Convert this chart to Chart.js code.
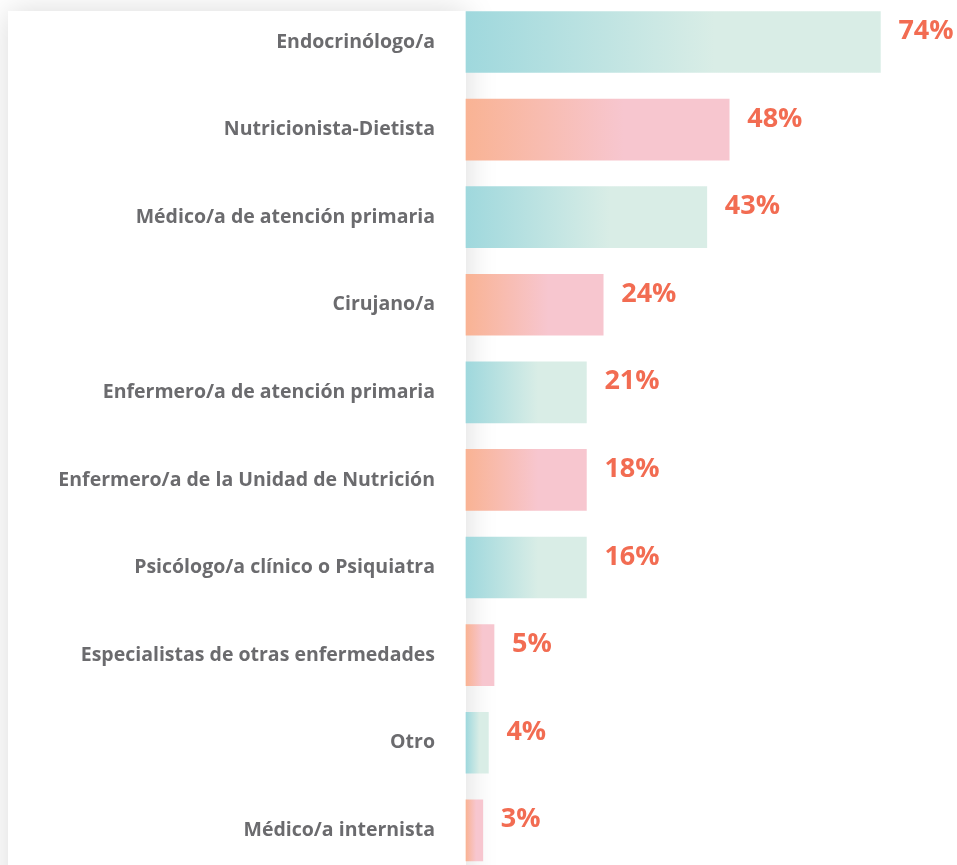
<!DOCTYPE html>
<html>
<head>
<meta charset="utf-8">
<script src="https://cdn.jsdelivr.net/npm/chart.js@4"></script>
<style>
  html, body { margin: 0; padding: 0; background: #fff; overflow: hidden; }
  #wrap { position: relative; width: 957px; height: 865px; }
  /* tarjeta blanca con sombra detrás de las etiquetas */
  #card {
    position: absolute; left: 8px; top: 11px; width: 458px; height: 920px;
    background: #fff; box-shadow: 0 0 30px rgba(0, 0, 0, 0.15);
  }
  #chart { position: absolute; left: 0; top: 0; }
</style>
</head>
<body>
<div id="wrap">
  <div id="card"></div>
  <canvas id="chart" width="957" height="865"></canvas>
</div>
<script>
// Datos
const categories = [
    'Endocrinólogo/a',
    'Nutricionista-Dietista',
    'Médico/a de atención primaria',
    'Cirujano/a',
    'Enfermero/a de atención primaria',
    'Enfermero/a de la Unidad de Nutrición',
    'Psicólogo/a clínico o Psiquiatra',
    'Especialistas de otras enfermedades',
    'Otro',
    'Médico/a internista'
];
// porcentajes impresos junto a cada barra
const shownValues = [74, 48, 43, 24, 21, 18, 16, 5, 4, 3];
// longitud de cada barra tal como está dibujada
const barValues = [74, 47, 43, 24.5, 21.5, 21.5, 21.5, 5, 4, 3];

// Colores del degradado (alternando turquesa / naranja)
const tealStops = ['#9fd8dd', '#d9ede6'];
const orangeStops = ['#f9b394', '#f7c6cf'];

function barGradient(context) {
    const chart = context.chart;
    const area = chart.chartArea;
    if (!area) return tealStops[0];
    const i = context.dataIndex;
    const xs = chart.scales.x;
    const x0 = xs.getPixelForValue(0);
    const x1 = xs.getPixelForValue(barValues[i]);
    const stops = i % 2 === 0 ? tealStops : orangeStops;
    const g = chart.ctx.createLinearGradient(x0, 0, Math.max(x1, x0 + 1), 0);
    g.addColorStop(0, stops[0]);
    g.addColorStop(0.6, stops[1]);
    g.addColorStop(1, stops[1]);
    return g;
}

// Etiquetas de porcentaje
const valueLabels = {
    id: 'valueLabels',
    afterDatasetsDraw(chart) {
        const ctx = chart.ctx;
        const meta = chart.getDatasetMeta(0);
        ctx.save();
        ctx.fillStyle = '#f26c52';
        ctx.font = 'bold 27px "Open Sans"';
        ctx.textAlign = 'left';
        ctx.textBaseline = 'alphabetic';
        meta.data.forEach((bar, i) => {
            ctx.fillText(shownValues[i] + '%', bar.x + 18, bar.y - 3);
        });
        ctx.restore();
    }
};

const chart = new Chart(document.getElementById('chart').getContext('2d'), {
    type: 'bar',
    data: {
        labels: categories,
        datasets: [{
            data: barValues,
            backgroundColor: barGradient,
            borderWidth: 0,
            barThickness: 61,
            clip: false
        }]
    },
    options: {
        indexAxis: 'y',
        responsive: false,
        animation: false,
        layout: { padding: { top: 42, bottom: 27, left: 0, right: 43 } },
        plugins: {
            legend: { display: false },
            tooltip: { enabled: false }
        },
        scales: {
            x: {
                display: false,
                min: 0,
                max: 80
            },
            y: {
                offset: false,
                grid: { display: false, offset: false },
                border: { display: false },
                afterFit(scale) { scale.width = 466; },
                ticks: {
                    color: '#6b6b6e',
                    font: { family: 'Open Sans', size: 19.5, weight: 700 },
                    padding: 23,
                    autoSkip: false
                }
            }
        }
    },
    plugins: [valueLabels]
});
</script>
</body>
</html>
